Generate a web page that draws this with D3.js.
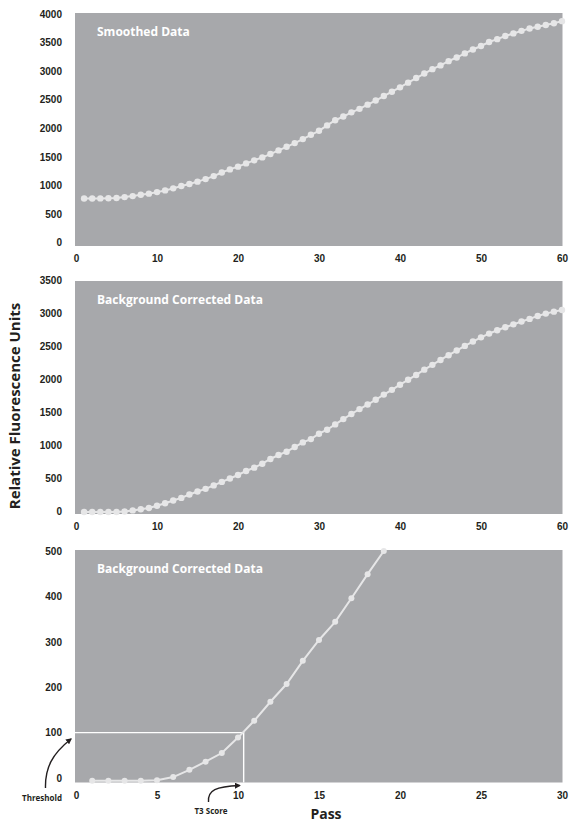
<!DOCTYPE html>
<html>
<head>
<meta charset="utf-8">
<script src="https://cdn.jsdelivr.net/npm/d3@7"></script>
<style>
  html, body { margin: 0; padding: 0; background: #ffffff; }
  svg { display: block; font-family: "Open Sans", "DejaVu Sans", sans-serif; }
  .tick text { font-size: 10px; font-weight: 700; fill: #231f20; }
  .panel-title { font-size: 12px; font-weight: 700; fill: #ffffff; }
  .axis-title { font-size: 14px; font-weight: 700; fill: #231f20; }
  .note { font-size: 8px; font-weight: 700; fill: #231f20; }
</style>
</head>
<body>
<svg id="chart" width="571" height="829"></svg>
<script>
// Pass numbers 1..60
const passes = d3.range(1, 61);

// Smoothed fluorescence readings (RFU) per pass
const smoothed = [
  770, 770, 772, 775, 780, 795, 812, 835, 855, 882,
  912, 948, 988, 1025, 1065, 1110, 1162, 1225, 1280, 1328,
  1385, 1438, 1490, 1548, 1612, 1675, 1740, 1810, 1885, 1955,
  2050, 2140, 2205, 2278, 2340, 2413, 2485, 2564, 2640, 2716,
  2798, 2879, 2958, 3035, 3100, 3175, 3238, 3310, 3378, 3440,
  3510, 3560, 3615, 3660, 3705, 3745, 3778, 3808, 3838, 3875
];

// Background corrected readings (RFU) per pass
const corrected = [
  -6, -6, -6, -6, -5, 2, 18, 36, 55, 89,
  126, 168, 207, 258, 304, 344, 396, 449, 500, 553,
  614, 664, 724, 795, 855, 905, 976, 1046, 1096, 1177,
  1237, 1318, 1398, 1475, 1549, 1618, 1690, 1768, 1840, 1918,
  1992, 2065, 2145, 2218, 2292, 2363, 2434, 2504, 2570, 2633,
  2690, 2740, 2785, 2830, 2872, 2912, 2955, 2992, 3022, 3047
];

// Tick values
const passTicks = [0, 10, 20, 30, 40, 50, 60];
const earlyPassTicks = [0, 5, 10, 15, 20, 25, 30];
const smoothedTicks = [0, 500, 1000, 1500, 2000, 2500, 3000, 3500, 4000];
const correctedTicks = [0, 500, 1000, 1500, 2000, 2500, 3000, 3500];
const earlyTicks = [0, 100, 200, 300, 400, 500];

// Threshold (RFU) and the pass at which the curve crosses it
const threshold = 100;
const t3Score = 10.35;

const PANEL_FILL = "#a7a8ab";
const TRACE = "#e6e6e7";
const INK = "#231f20";

const svg = d3.select("#chart");

// Arrowhead marker for the annotations
svg.append("defs").append("marker")
  .attr("id", "arrowhead")
  .attr("viewBox", "0 0 10 10")
  .attr("refX", 8).attr("refY", 5)
  .attr("markerWidth", 6).attr("markerHeight", 6)
  .attr("markerUnits", "userSpaceOnUse")
  .attr("orient", "auto")
  .append("path")
  .attr("d", "M0,0 L10,5 L0,10 Z")
  .attr("fill", INK);

function drawPanel(cfg) {
  const g = svg.append("g");
  const x = d3.scaleLinear().domain(cfg.xDomain).range([76, 562]);
  const y = d3.scaleLinear().domain(cfg.yDomain).range(cfg.yRange);

  g.append("rect")
    .attr("x", 75).attr("y", cfg.rectTop)
    .attr("width", 562.5 - 75).attr("height", cfg.rectBottom - cfg.rectTop)
    .attr("fill", PANEL_FILL);

  g.append("text")
    .attr("class", "panel-title")
    .attr("x", 97).attr("y", cfg.rectTop + 23)
    .text(cfg.title);

  const yAxis = g.append("g")
    .attr("transform", "translate(75,0)")
    .call(d3.axisLeft(y).tickValues(cfg.yTicks).tickSize(0).tickPadding(13).tickFormat(d3.format("d")));
  yAxis.select(".domain").remove();
  yAxis.selectAll("text").attr("font-family", null).attr("font-size", null);

  const xAxis = g.append("g")
    .attr("transform", `translate(0,${cfg.rectBottom})`)
    .call(d3.axisBottom(x).tickValues(cfg.xTicks).tickSize(0).tickPadding(9).tickFormat(d3.format("d")));
  xAxis.select(".domain").remove();
  xAxis.selectAll("text").attr("font-family", null).attr("font-size", null);

  const pts = passes
    .map((p, i) => ({ pass: p, value: cfg.values[i] }))
    .filter(d => d.pass <= cfg.xDomain[1] && d.value <= cfg.yDomain[1]);

  if (cfg.extra) cfg.extra(g, x, y);

  g.append("path")
    .datum(pts)
    .attr("fill", "none")
    .attr("stroke", TRACE)
    .attr("stroke-width", 2)
    .attr("d", d3.line().x(d => x(d.pass)).y(d => y(d.value)));

  g.selectAll("circle.pt")
    .data(pts)
    .join("circle")
    .attr("class", "pt")
    .attr("cx", d => x(d.pass))
    .attr("cy", d => y(d.value))
    .attr("r", cfg.r)
    .attr("fill", TRACE);
}

// Smoothed data, passes 0-60
drawPanel({
  title: "Smoothed Data",
  values: smoothed,
  xDomain: [0, 60], xTicks: passTicks,
  yDomain: [0, 4000], yRange: [242.5, 14], yTicks: smoothedTicks,
  rectTop: 13, rectBottom: 246, r: 3.2
});

// Background corrected data, passes 0-60
drawPanel({
  title: "Background Corrected Data",
  values: corrected,
  xDomain: [0, 60], xTicks: passTicks,
  yDomain: [0, 3500], yRange: [511.6, 280], yTicks: correctedTicks,
  rectTop: 281, rectBottom: 514, r: 3.2
});

// Early passes with threshold and T3 score
drawPanel({
  title: "Background Corrected Data",
  values: corrected,
  xDomain: [0, 30], xTicks: earlyPassTicks,
  yDomain: [0, 500], yRange: [778, 551], yTicks: earlyTicks,
  rectTop: 550, rectBottom: 782.5, r: 3,
  extra: (g, x, y) => {
    g.append("path")
      .attr("fill", "none")
      .attr("stroke", "#ffffff")
      .attr("stroke-width", 1.4)
      .attr("d", `M75,${y(threshold)} H${x(t3Score)} V782.5`);

    g.append("path")
      .attr("fill", "none").attr("stroke", INK).attr("stroke-width", 1.4)
      .attr("marker-end", "url(#arrowhead)")
      .attr("d", "M45.5,788 C45,768 52,754 71,739");
    g.append("text").attr("class", "note")
      .attr("x", 42).attr("y", 801).attr("text-anchor", "middle")
      .text("Threshold");

    g.append("path")
      .attr("fill", "none").attr("stroke", INK).attr("stroke-width", 1.4)
      .attr("marker-end", "url(#arrowhead)")
      .attr("d", `M208.5,802 C207.5,790 216,786.5 ${x(t3Score) - 4},785.5`);
    g.append("text").attr("class", "note")
      .attr("x", 211).attr("y", 814).attr("text-anchor", "middle")
      .text("T3 Score");
  }
});

// Shared axis titles
svg.append("text")
  .attr("class", "axis-title")
  .attr("transform", "translate(20,406) rotate(-90)")
  .attr("text-anchor", "middle")
  .style("font-size", "15px")
  .text("Relative Fluorescence Units");

svg.append("text")
  .attr("class", "axis-title")
  .attr("x", 326).attr("y", 819)
  .attr("text-anchor", "middle")
  .text("Pass");
</script>
</body>
</html>
